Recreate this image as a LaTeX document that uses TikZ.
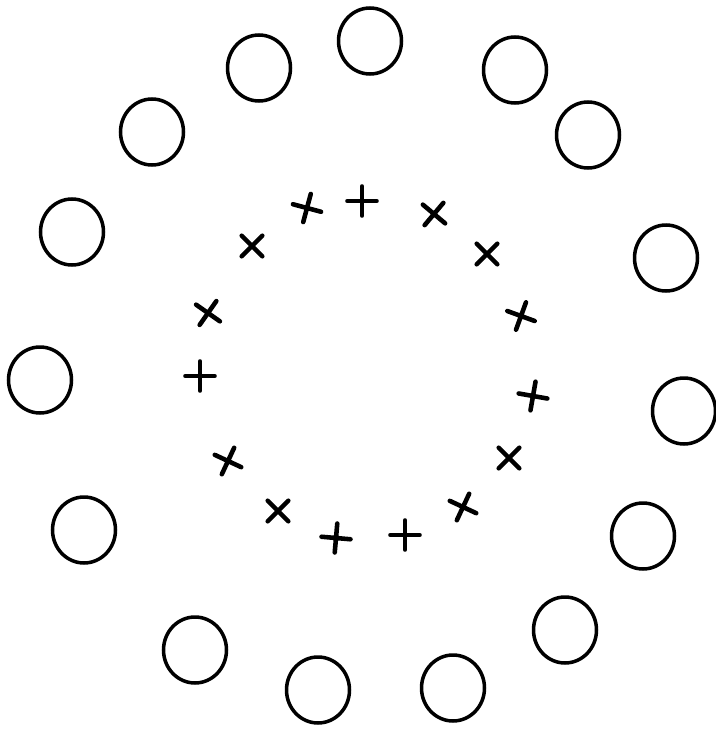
\documentclass[tikz,border=0pt]{standalone}
\usepackage{tikz}
\usetikzlibrary{shapes.geometric,shapes.misc}

\begin{document}
\begin{tikzpicture}[
  x=0.02cm, y=-0.02cm,
  ring/.style={draw, ellipse, line width=2pt, minimum width=1.26cm, minimum height=1.32cm, inner sep=0pt},
  cross/.style={draw, cross out, line width=2.6pt, minimum size=0.32cm, inner sep=0pt, line cap=round},
  plus/.style={cross, rotate=45}
]
  \useasboundingbox (0,0) rectangle (716,737);

  % --- ANILLO EXTERIOR ---
  \node[ring] (c1)  at (370, 41)  {};
  \node[ring] (c2)  at (259, 68)  {};
  \node[ring] (c3)  at (515, 70)  {};
  \node[ring] (c4)  at (588, 135) {};
  \node[ring] (c5)  at (152, 132) {};
  \node[ring] (c6)  at (72, 232)  {};
  \node[ring] (c7)  at (666, 258) {};
  \node[ring] (c8)  at (40, 380)  {};
  \node[ring] (c9)  at (684, 411) {};
  \node[ring] (c10) at (84, 530)  {};
  \node[ring] (c11) at (643, 536) {};
  \node[ring] (c12) at (195, 650) {};
  \node[ring] (c13) at (565, 630) {};
  \node[ring] (c14) at (318, 690) {};
  \node[ring] (c15) at (453, 688) {};

  % --- CRUCES INTERIORES ---
  \node[cross, rotate=30] (k1)  at (307, 208) {};
  \node[plus]             (k2)  at (362, 201) {};
  \node[cross, rotate=5]  (k3)  at (434, 214) {};
  \node[cross]            (k4)  at (487, 254) {};
  \node[cross]            (k5)  at (252, 246) {};
  \node[cross, rotate=10] (k6)  at (208, 313) {};
  \node[cross, rotate=25] (k7)  at (521, 316) {};
  \node[plus]             (k8)  at (200, 376) {};
  \node[cross, rotate=35] (k9)  at (533, 396) {};
  \node[cross, rotate=20] (k10) at (228, 461) {};
  \node[cross]            (k11) at (509, 458) {};
  \node[cross]            (k12) at (278, 511) {};
  \node[cross, rotate=20] (k13) at (463, 507) {};
  \node[cross, rotate=40] (k14) at (336, 538) {};
  \node[plus]             (k15) at (405, 535) {};

\end{tikzpicture}
\end{document}
